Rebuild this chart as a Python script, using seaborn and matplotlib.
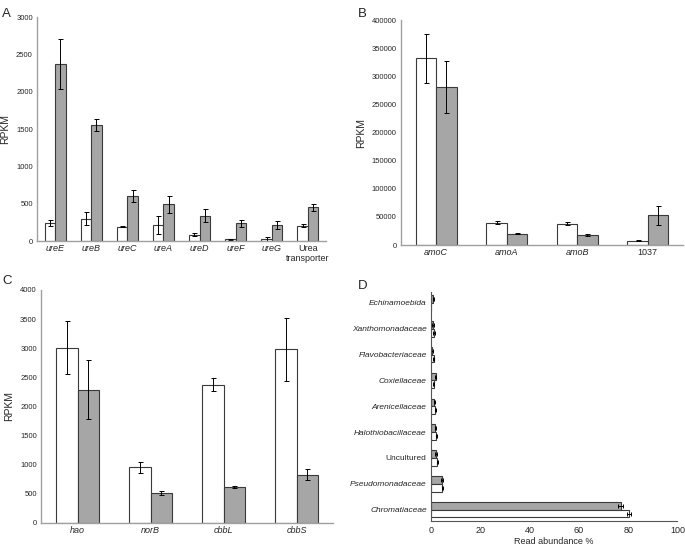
import numpy as np
import seaborn as sns
import pandas as pd
import matplotlib.pyplot as plt

# panel A - urease genes
a_genes = ["ureE", "ureB", "ureC", "ureA", "ureD", "ureF", "ureG", "Urea\ntransporter"]
a_white = [245, 300, 190, 215, 85, 22, 28, 205]
a_white_err = [42, 90, 6, 125, 18, 5, 28, 20]
a_gray = [2365, 1550, 600, 490, 340, 235, 215, 450]
a_gray_err = [335, 80, 80, 115, 85, 50, 50, 50]

# panel B - amo genes
b_genes = ["amoC", "amoA", "amoB", "1037"]
b_white = [332000, 39500, 38000, 7500]
b_white_err = [44000, 3000, 3000, 800]
b_gray = [280500, 20000, 18000, 52500]
b_gray_err = [46000, 800, 1500, 17500]

# panel C
c_genes = ["hao", "norB", "cbbL", "cbbS"]
c_white = [3010, 955, 2375, 2980]
c_white_err = [455, 95, 110, 535]
c_gray = [2290, 515, 615, 830]
c_gray_err = [505, 40, 20, 90]

# panel D - taxa read abundance
d_taxa = ["Echinamoebida", "Xanthomonadaceae", "Flavobacteriaceae", "Coxiellaceae",
          "Arenicellaceae", "Halothiobacillaceae", "Uncultured", "Pseudomonadaceae",
          "Chromatiaceae"]
d_gray = [1.0, 0.8, 0.5, 1.9, 1.4, 1.8, 2.0, 4.7, 77.0]
d_gray_err = [0.2, 0.3, 0.3, 0.3, 0.3, 0.3, 0.3, 0.4, 1.0]
d_white = [0.0, 1.2, 1.1, 1.2, 1.8, 2.2, 2.6, 4.7, 80.3]
d_white_err = [0.0, 0.3, 0.3, 0.2, 0.3, 0.3, 0.3, 0.3, 0.7]

sns.set_style("white")
plt.rcParams['font.family'] = ['Liberation Sans', 'DejaVu Sans']

GRAY = "#a6a6a6"
EDGE = "#3a3a3a"
SPINE = "#a0a0a0"


def long_df(cats, white, white_err, gray, gray_err):
    return pd.DataFrame({
        "cat": list(cats) * 2,
        "val": list(white) + list(gray),
        "err": list(white_err) + list(gray_err),
        "grp": ["white"] * len(cats) + ["gray"] * len(cats),
    })


def add_err(ax, df, order, horizontal=False):
    for cont, grp in zip(ax.containers, order):
        sub = df[df.grp == grp]
        for bar, v, e in zip(cont.patches, sub.val, sub.err):
            if e <= 0:
                continue
            if horizontal:
                y = bar.get_y() + bar.get_height() / 2
                ax.errorbar(v, y, xerr=e, fmt="none", ecolor="black",
                            elinewidth=0.7, capsize=1.3, capthick=0.7)
            else:
                x = bar.get_x() + bar.get_width() / 2
                ax.errorbar(x, v, yerr=e, fmt="none", ecolor="black",
                            elinewidth=0.7, capsize=1.8, capthick=0.7)


def vertical_panel(ax, cats, white, white_err, gray, gray_err, ymax, step):
    df = long_df(cats, white, white_err, gray, gray_err)
    sns.barplot(data=df, x="cat", y="val", hue="grp", hue_order=["white", "gray"],
                palette={"white": "white", "gray": GRAY}, width=0.58,
                edgecolor=EDGE, linewidth=0.8, errorbar=None, legend=False, ax=ax)
    add_err(ax, df, ["white", "gray"])
    ax.set_ylim(0, ymax)
    ax.set_yticks(np.arange(0, ymax + 1, step))
    ax.set_xlim(-0.5, len(cats) - 0.5)
    ax.set_xlabel("")
    ax.set_ylabel("RPKM", fontsize=7.5)
    ax.tick_params(axis="both", length=0, labelsize=5.5, pad=3)
    ax.tick_params(axis="x", labelsize=6.5, pad=2)
    for lab in ax.get_xticklabels():
        if lab.get_text()[0].isalpha() and "\n" not in lab.get_text():
            lab.set_style("italic")
    for s in ["top", "right"]:
        ax.spines[s].set_visible(False)
    for s in ["left", "bottom"]:
        ax.spines[s].set_color(SPINE)
        ax.spines[s].set_linewidth(1.0)


fig = plt.figure(figsize=(6.85, 5.47), dpi=100)

axA = fig.add_axes([0.054, 0.5594, 0.4219, 0.4095])
vertical_panel(axA, a_genes, a_white, a_white_err, a_gray, a_gray_err, 3000, 500)

axB = fig.add_axes([0.5854, 0.5521, 0.4117, 0.4113])
vertical_panel(axB, b_genes, b_white, b_white_err, b_gray, b_gray_err, 400000, 50000)

axC = fig.add_axes([0.0599, 0.0439, 0.4263, 0.4260])
vertical_panel(axC, c_genes, c_white, c_white_err, c_gray, c_gray_err, 4000, 500)

# panel D - horizontal bars, gray above white
axD = fig.add_axes([0.6290, 0.0470, 0.3600, 0.4190])
dfD = long_df(d_taxa, d_white, d_white_err, d_gray, d_gray_err)
sns.barplot(data=dfD, y="cat", x="val", hue="grp", hue_order=["gray", "white"],
            palette={"white": "white", "gray": GRAY}, width=0.6, orient="h",
            edgecolor=EDGE, linewidth=0.8, errorbar=None, legend=False, ax=axD)
add_err(axD, dfD, ["gray", "white"], horizontal=True)
axD.set_xlim(0, 100)
axD.set_xticks([0, 20, 40, 60, 80, 100])
axD.set_ylim(len(d_taxa) - 0.55, -0.42)
axD.set_ylabel("")
axD.set_xlabel("Read abundance %", fontsize=6.5, labelpad=1)
axD.tick_params(axis="x", length=2, width=0.6, labelsize=6.5, pad=1.5)
axD.tick_params(axis="y", length=0, labelsize=6, pad=3)
for lab in axD.get_yticklabels():
    if lab.get_text() != "Uncultured":
        lab.set_style("italic")
for s in ["top", "right"]:
    axD.spines[s].set_visible(False)
for s in ["left", "bottom"]:
    axD.spines[s].set_color("#555555")
    axD.spines[s].set_linewidth(0.8)

for lbl, x, y in [("A", 0.003, 0.985), ("B", 0.522, 0.985),
                  ("C", 0.003, 0.497), ("D", 0.522, 0.488)]:
    fig.text(x, y, lbl, fontsize=9.5, ha="left", va="top")

fig.savefig("out.png", dpi=100)
